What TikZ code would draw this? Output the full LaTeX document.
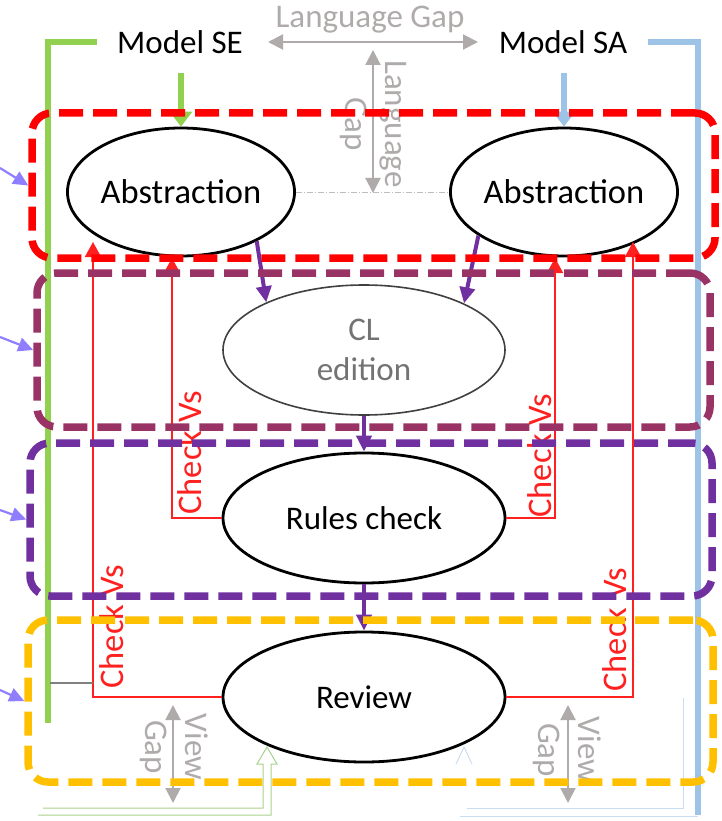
\documentclass[tikz,border=0pt]{standalone}
\usepackage{fontspec}
\setmainfont{Carlito}
\usetikzlibrary{arrows.meta,shapes.geometric}

\definecolor{segreen}{HTML}{92D050}
\definecolor{sablue}{HTML}{9DC3E6}
\definecolor{gapgray}{HTML}{AFABAB}
\definecolor{chkred}{HTML}{FF2020}
\definecolor{zonered}{HTML}{FF0000}
\definecolor{zonemaroon}{HTML}{993366}
\definecolor{zonepurple}{HTML}{7030A0}
\definecolor{zoneyellow}{HTML}{FFC000}
\definecolor{pointer}{HTML}{8F7FFF}
\definecolor{faintgreen}{HTML}{A9D18E}
\definecolor{faintblue}{HTML}{C9DDF0}

\begin{document}
\begin{tikzpicture}[x=1pt,y=-1pt,
  every node/.style={font=\fontsize{33}{40}\selectfont},
  stage/.style={ellipse,draw,line width=2.8pt,fill=white,inner sep=0pt},
  model/.style={line width=6.5pt},
  gaparrow/.style={draw=gapgray,line width=2pt,{Triangle[width=15pt,length=15pt]}-{Triangle[width=15pt,length=15pt]}},
  gaptext/.style={text=gapgray,align=center,inner sep=0pt},
  chk/.style={draw=chkred,line width=1.8pt,-{Triangle[width=16pt,length=15pt]}},
  chklabel/.style={text=chkred,rotate=90,inner sep=0pt,font=\fontsize{34.5}{40}\selectfont},
  flow/.style={draw=zonepurple,line width=4pt,-{Triangle[width=15pt,length=16pt]}},
  zone/.style={rectangle,rounded corners=20pt,line width=7.5pt,dash pattern=on 24pt off 10pt,inner sep=0pt},
  ptr/.style={draw=pointer,line width=2.2pt,-{Triangle[width=14pt,length=15pt]}}
]
\useasboundingbox (0,0) rectangle (721,821);

% models
\node (mse) at (180,42) {Model SE};
\node (msa) at (563,42) {Model SA};

% process stages
\node[stage,minimum width=224pt,minimum height=128pt,font=\fontsize{34.5}{40}\selectfont] (absL) at (181,192) {Abstraction};
\node[stage,minimum width=222pt,minimum height=128pt,font=\fontsize{34.5}{40}\selectfont] (absR) at (564,192) {Abstraction};
\node[stage,line width=1.6pt,draw=black!75,text=black!55,align=center,
      minimum width=282pt,minimum height=130pt] (cl) at (364,350) {CL\\edition};
\node[stage,minimum width=282pt,minimum height=130pt] (rules) at (364,518) {Rules check};
\node[stage,minimum width=282pt,minimum height=130pt] (review) at (364,697) {Review};

% model rails
\coordinate (gEnd) at (48,723);
\coordinate (bEnd) at (698,815);
\draw[model,segreen] ([xshift=-17pt]mse.west) -| (gEnd);
\draw[model,sablue] ([xshift=17pt]msa.east) -| (bEnd);
\coordinate (gStart) at (181,73);
\coordinate (bStart) at (564,73);
\draw[model,segreen,-{Triangle[width=22pt,length=15pt]}] (gStart) -- (absL.north);
\draw[model,sablue,-{Triangle[width=22pt,length=15pt]}] (bStart) -- (absR.north);

% language gap
\coordinate (lg1) at (268,42);
\coordinate (lg2) at (478,42);
\draw[gaparrow] (lg1) -- (lg2);
\node[gaptext] (lgh) at (370,20) {Language Gap};
\coordinate (lv1) at (373,50);
\coordinate (lv2) at (373,193);
\draw[gaparrow] (lv1) -- (lv2);
\node[gaptext,rotate=-90] (lgv) at (373,124) {Language\\Gap};
\draw[gapgray!80,line width=1pt,dash pattern=on 6pt off 2pt on 1pt off 2pt] (absL.east) -- (absR.west);

% view gap
\coordinate (vl1) at (173,705);
\coordinate (vl2) at (173,803);
\coordinate (vr1) at (568,705);
\coordinate (vr2) at (568,803);
\draw[gaparrow] (vl1) -- (vl2);
\draw[gaparrow] (vr1) -- (vr2);
\node[gaptext,rotate=-90] (vgl) at (174,747) {View\\Gap};
\node[gaptext,rotate=-90] (vgr) at (567,750) {View\\Gap};

% flow between stages
\draw[flow] (absL.-33) -- (cl.154);
\draw[flow] (absR.207) -- (cl.25);
\draw[flow] (cl.south) -- (rules.north);
\draw[flow] (rules.south) -- (review.north);

% consistency checks
\coordinate (tIL) at (172,258);
\coordinate (tIR) at (555,258);
\coordinate (tOL) at (93,242);
\coordinate (tOR) at (633,242);
\draw[chk] (rules.west) -| (tIL);
\draw[chk] (rules.east) -| (tIR);
\draw[chk] (review.west) -| (tOL);
\draw[chk] (review.east) -| (tOR);
\node[chklabel] (cv1) at (190,453) {Check Vs};
\node[chklabel] (cv2) at (540,456) {Check Vs};
\node[chklabel] (cv3) at (112,627) {Check Vs};
\node[chklabel] (cv4) at (615,630) {Check Vs};
\coordinate (gTap) at (50,683);
\coordinate (rTap) at (93,683);
\draw[black!50,line width=2pt] (gTap) -- (rTap);

% faint outlines along the bottom edge
\draw[faintgreen,line width=1pt]
  (43,808) -- (263,808) -- (263,764) -- (257,764) -- (267,747) -- (277,764)
  -- (271,764) -- (271,815) -- (38,815);
\draw[faintblue,line width=1pt] (467,808) -- (683,808) -- (683,698);
\draw[faintblue,line width=1pt] (460,816) -- (698,816);
\draw[faintblue,line width=1pt] (456,764) -- (464,747) -- (472,764);

% zones
\node[zone,draw=zonered,minimum width=683pt,minimum height=145pt] (zA) at (373.5,185.5) {};
\node[zone,draw=zonemaroon,minimum width=673pt,minimum height=154pt] (zB) at (373.5,350) {};
\node[zone,draw=zonepurple,minimum width=682pt,minimum height=153pt] (zC) at (371,519.5) {};
\node[zone,draw=zoneyellow,minimum width=685pt,minimum height=162pt] (zD) at (370.5,701) {};

% pointers into the zones
\coordinate (p1) at (0,168);
\coordinate (p2) at (0,337);
\coordinate (p3) at (0,510);
\coordinate (p4) at (0,690);
\draw[ptr] (p1) -- (zA.west);
\draw[ptr] (p2) -- (zB.west);
\draw[ptr] (p3) -- (zC.west);
\draw[ptr] (p4) -- (zD.west);
\end{tikzpicture}
\end{document}
